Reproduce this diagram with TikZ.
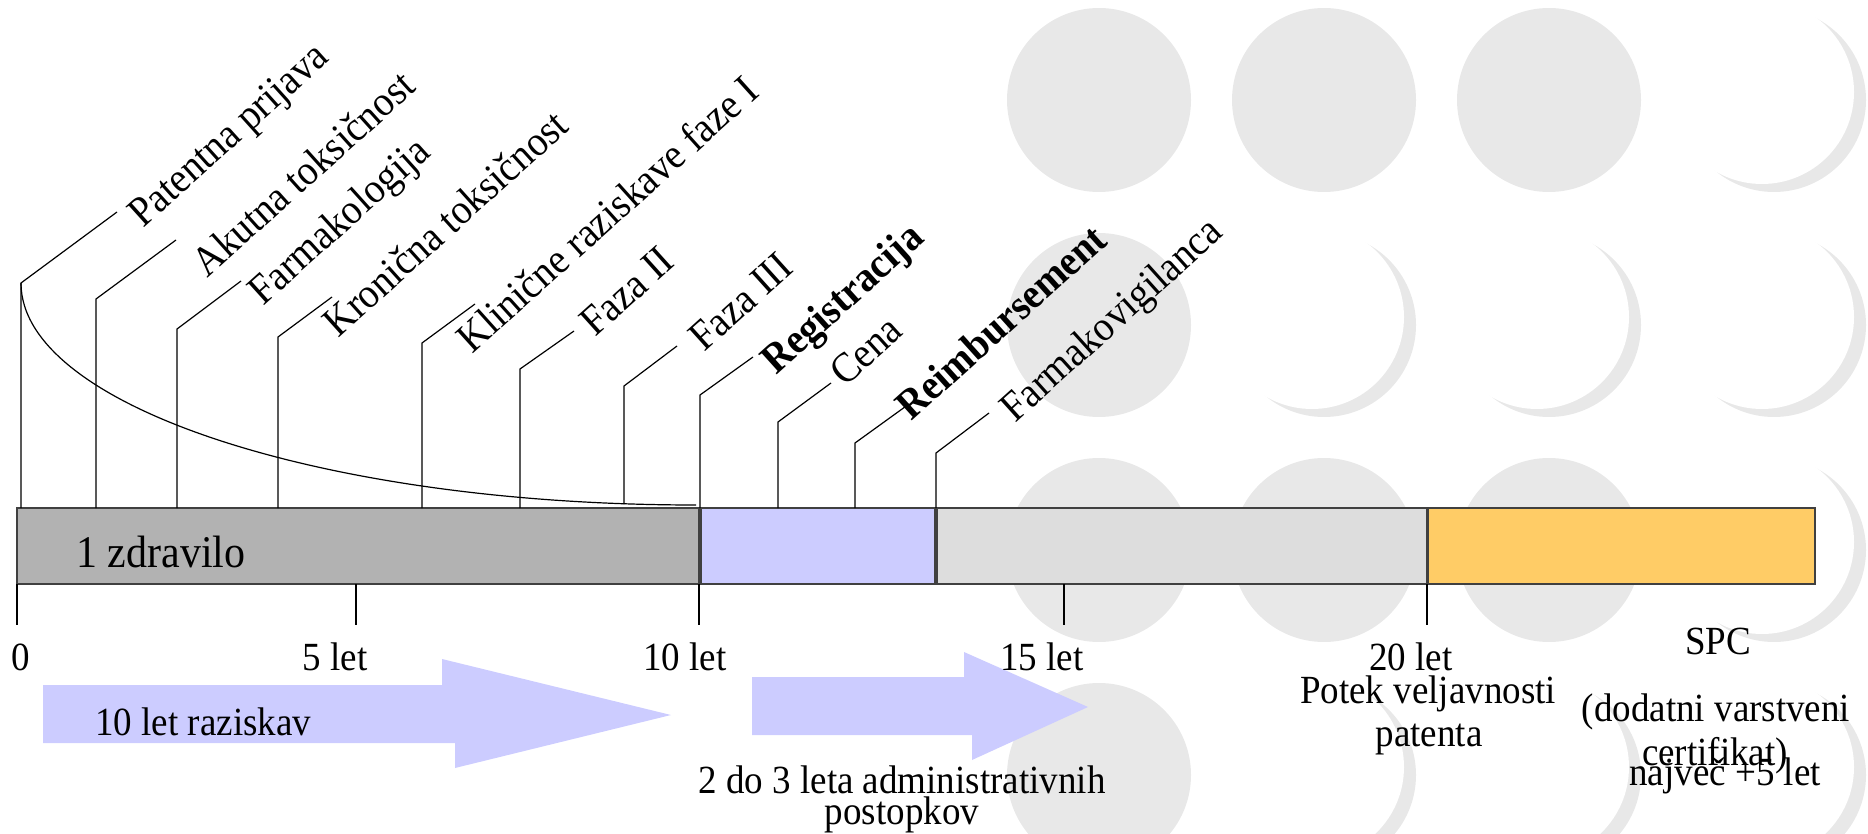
\documentclass[tikz,border=0pt]{standalone}
\usepackage{fontspec}
\usepackage{graphicx}
\setmainfont{Liberation Serif}
\definecolor{bgcirc}{HTML}{E8E8E8}
\definecolor{resgray}{HTML}{B2B2B2}
\definecolor{admblue}{HTML}{CCCCFF}
\definecolor{mktgray}{HTML}{DDDDDD}
\definecolor{spcorange}{HTML}{FFCC66}
\newcommand{\tallt}[1]{\scalebox{1}[1.08]{#1}}

\begin{document}
\begin{tikzpicture}[x=0.5pt, y=-0.5pt,
  every node/.style={inner sep=0pt, font=\fontsize{18.5}{22}\selectfont},
  lbl/.style={anchor=base west, rotate=42, font=\fontsize{19.5}{22}\selectfont},
  seg/.style={draw=black!75, line width=0.75pt},
  lead/.style={line width=0.6pt}]
\useasboundingbox (0,0) rectangle (1868,834);
% background circles
\foreach \x/\y in {1099/100,1324/100,1549/100,1099/325,1099/550,1324/550,1549/550,1099/775}
  \fill[bgcirc] (\x,\y) circle[radius=92];
% crescents
\foreach \x/\y in {1774/100,1324/325,1549/325,1774/325,1774/550,1324/775,1549/775,1774/775}{
  \fill[bgcirc] (\x,\y) circle[radius=92];
  \fill[white] (\x-12,\y-8) circle[radius=92];
}
% block arrows
\fill[admblue] (43,685) -- (442,685) -- (442,659) -- (671,715) -- (455,768) -- (455,743) -- (43,743) -- cycle;
\fill[admblue] (752,677) -- (964,677) -- (964,652) -- (1088,707) -- (972,760) -- (972,735) -- (752,735) -- cycle;
% time bar
\draw[seg, fill=resgray] (17,508) rectangle (699,584);
\draw[seg, fill=admblue] (701,508) rectangle (935,584);
\draw[seg, fill=mktgray] (937,508) rectangle (1427,584);
\draw[seg, fill=spcorange] (1428,508) rectangle (1815,584);
\node[anchor=base west, font=\fontsize{21}{24}\selectfont] (drug) at (76,567) {\tallt{1 zdravilo}};
% milestones
\foreach \i/\x/\k/\ex/\ey/\b in {1/21/283/117/212/508, 2/96/299/176/240/508,
    3/177/329/241/281/508, 4/278/337/332/297/508, 5/422/343/475/304/508,
    6/520/369/574/331/508, 7/624/386/677/346/504, 8/700/395/753/357/508,
    9/778/422/831/383/508, 10/855/443/909/404/508, 11/936/453/989/413/508}{
  \coordinate (foot\i) at (\x,\b);
  \coordinate (knee\i) at (\x,\k);
  \coordinate (end\i) at (\ex,\ey);
  \draw[lead] (foot\i) -- (knee\i) -- (end\i);
}
\foreach \i/\x/\y/\txt in {1/143/229/Patentna prijava, 2/207/279/Akutna toksičnost,
    3/263/307/Farmakologija, 4/338/339/Kronična toksičnost,
    5/472/355/Klinične raziskave faze I, 6/595/338/Faza II, 7/704/353/Faza III,
    8/776/376/\textbf{Registracija}, 9/845/388/Cena,
    10/911/422/\textbf{Reimbursement}, 11/1015/424/Farmakovigilanca}
  \node[lbl] (lab\i) at (\x,\y) {\tallt{\txt}};
% research curve
\coordinate (curveend) at (696,505);
\draw[lead] (knee1) .. controls (21,406) and (323,505) .. (curveend);
% scale
\foreach \x in {17,356,699,1064,1427}
  \draw[lead] (\x,584) -- (\x,625);
\foreach \x/\t [count=\n] in {21/0,335/5 let,685/10 let,1042/15 let,1411/20 let}
  \node[anchor=base] (yr\n) at (\x,670) {\tallt{\t}};
% captions
\node[anchor=base west] (restxt) at (95,735) {\tallt{10 let raziskav}};
\node[anchor=base] (adm1) at (902,793) {\tallt{2 do 3 leta administrativnih}};
\node[anchor=base] (adm2) at (902,824) {\tallt{postopkov}};
\node[anchor=base] (exp1) at (1428,703) {\tallt{Potek veljavnosti}};
\node[anchor=base] (exp2) at (1429,746) {\tallt{patenta}};
\node[anchor=base] (spc) at (1718,654) {\tallt{SPC}};
\node[anchor=base] (spc1) at (1716,721) {\tallt{(dodatni varstveni}};
\node[anchor=base] (spc2) at (1715,765) {\tallt{certifikat)}};
\node[anchor=base] (spc3) at (1725,785) {\tallt{največ +5 let}};
\end{tikzpicture}
\end{document}
